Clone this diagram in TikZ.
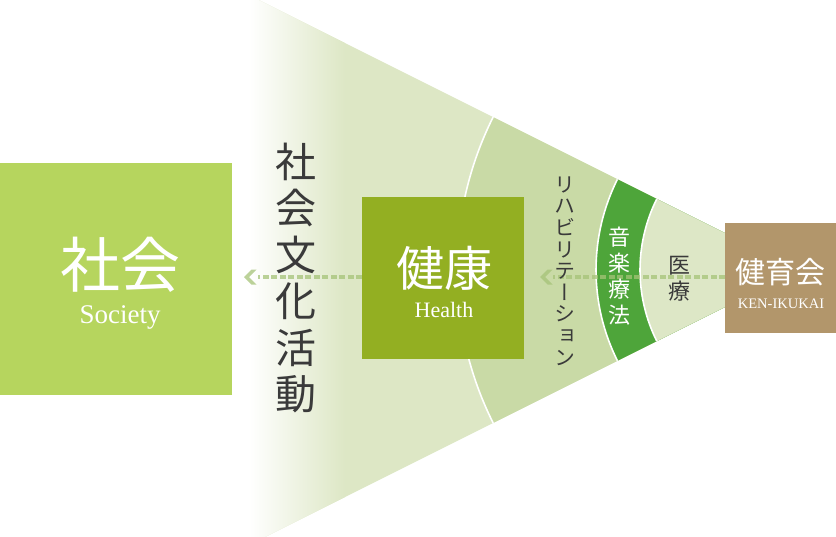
\documentclass[tikz,border=0pt]{standalone}
\usepackage{fontspec}
\usepackage{graphicx}
\newfontfamily\cjk{Noto Sans CJK JP}
\newfontfamily\cjkv[RawFeature=+vert]{Noto Sans CJK JP}
\newfontfamily\lat{Liberation Serif}
\definecolor{zoneout}{HTML}{DDE7C5}
\definecolor{zonereh}{HTML}{C9DAA6}
\definecolor{zonemus}{HTML}{4EA53A}
\definecolor{zonemed}{HTML}{DDE7C6}
\definecolor{socbox}{HTML}{B6D55E}
\definecolor{healthbox}{HTML}{93AF22}
\definecolor{kenbox}{HTML}{B2966B}
\definecolor{txt}{HTML}{3A3A3A}
\definecolor{arrowc}{HTML}{A5C378}
\begin{document}
\begin{tikzpicture}[x=1pt,y=1pt,
  box/.style={draw=none, inner sep=0pt, outer sep=0pt, anchor=north west},
  vtext/.style={align=center, inner sep=0pt},
  sep/.style={draw=white, line width=1.6pt},
  flow/.style={draw=arrowc, draw opacity=0.75, line width=4.5pt, dash pattern=on 6pt off 2.5pt},
  chev/.style={fill=arrowc, fill opacity=0.75}]
\useasboundingbox (0,0) rectangle (836,-536);
\coordinate (A) at (799,-270);
\begin{scope}
  \clip (0,0) rectangle (836,-536);
  \begin{scope}
    \clip (A) -- (250,4.5) -- (250,-544.5) -- cycle;
    \fill[zoneout] (250,10) rectangle (836,-546);
    \shade[left color=white, right color=zoneout] (249,10) rectangle (345,-546);
  \end{scope}
  \fill[zonereh] (A) -- ++(153.435:342) arc[start angle=153.435, end angle=206.565, radius=342] -- cycle;
  \fill[zonemus] (A) -- ++(153.435:203) arc[start angle=153.435, end angle=206.565, radius=203] -- cycle;
  \fill[zonemed] (A) -- ++(153.435:159) arc[start angle=153.435, end angle=206.565, radius=159] -- cycle;
  \draw[sep] (A) ++(153.435:342) arc[start angle=153.435, end angle=206.565, radius=342];
  \draw[sep] (A) ++(153.435:203) arc[start angle=153.435, end angle=206.565, radius=203];
  \draw[sep] (A) ++(153.435:159) arc[start angle=153.435, end angle=206.565, radius=159];
\end{scope}

% boxes
\node[box, fill=socbox, minimum width=232pt, minimum height=232pt] (soc) at (0,-163) {};
\node[box, fill=healthbox, minimum width=162pt, minimum height=162pt] (health) at (362,-197) {};
\node[box, fill=kenbox, minimum width=111pt, minimum height=110pt] (ken) at (725,-223) {};

% arrows
\coordinate (t1) at (540,-277);
\coordinate (s1) at (553,-277);
\coordinate (t2) at (244,-277);
\coordinate (s2) at (258,-277);
\draw[flow] (ken.west |- s1) -- (s1);
\path[chev] (t1) -- ++(7.5,7.5) -- ++(5,0) -- ++(-7.5,-7.5) -- ++(7.5,-7.5) -- ++(-5,0) -- cycle;
\draw[flow] (health.west |- s2) -- (s2);
\path[chev] (t2) -- ++(7.5,7.5) -- ++(5,0) -- ++(-7.5,-7.5) -- ++(7.5,-7.5) -- ++(-5,0) -- cycle;

% texts
\node[font=\cjk\fontsize{60}{60}\selectfont, text=white, inner sep=0pt] (socj) at (120,-265) {社会};
\node[font=\lat\fontsize{27}{27}\selectfont, text=white, anchor=base, inner sep=0pt] (socl) at (120,-323) {Society};
\node[font=\cjk\fontsize{48}{48}\selectfont, text=white, inner sep=0pt] (healthj) at (444,-268) {健康};
\node[font=\lat\fontsize{22}{22}\selectfont, text=white, anchor=base, inner sep=0pt] (healthl) at (444,-317) {Health};
\node[font=\cjk\fontsize{30}{30}\selectfont, text=white, inner sep=0pt] (kenj) at (780,-272) {健育会};
\node[font=\lat\fontsize{14.5}{14.5}\selectfont, text=white, anchor=base, inner sep=0pt] (kenl) at (781,-308) {KEN-IKUKAI};

\node[vtext, font=\cjk\fontsize{41}{46.5}\selectfont, text=txt] (sbk) at (296,-278) {社\\会\\文\\化\\活\\動};
\node[vtext, font=\cjkv\fontsize{21}{21.6}\selectfont, text=txt] (reh) at (565,-271) {リ\\ハ\\ビ\\リ\\テ\\ー\\シ\\ョ\\ン};
\node[vtext, font=\cjk\fontsize{22}{26}\selectfont, text=white] (mus) at (619,-276) {音\\楽\\療\\法};
\node[vtext, font=\cjk\fontsize{22}{26}\selectfont, text=txt] (med) at (679,-279) {医\\療};
\end{tikzpicture}
\end{document}
